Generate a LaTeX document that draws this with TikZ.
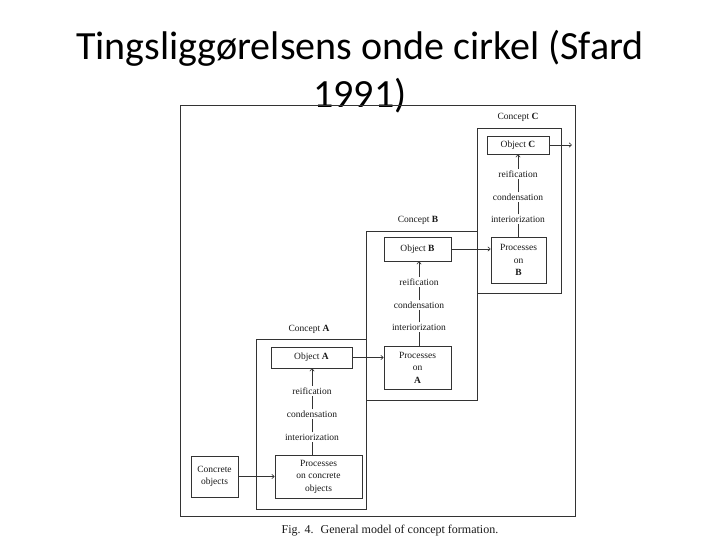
\documentclass[tikz,border=0pt]{standalone}
\usepackage{fontspec}
\setmainfont{Liberation Serif}
\newfontfamily\titlefont{Carlito}
\usetikzlibrary{arrows.meta}
\tikzset{
  wbox/.style 2 args={draw=black!80, line width=0.6pt, minimum width=#1, minimum height=#2, inner sep=0pt, align=center, font=\fontsize{9.5}{12.5}\selectfont, text=black!90},
  lbl/.style={inner sep=1.2pt, font=\fontsize{9.5}{10}\selectfont, text=black!90},
  conn/.style={draw=black!80, line width=0.6pt},
  arr/.style={conn, -{Straight Barb[length=2.5pt,width=4.5pt]}}
}
\begin{document}
\begin{tikzpicture}[x=1pt,y=-1pt]
\useasboundingbox (0,0) rectangle (720,540);
% title
\node[font=\titlefont\fontsize{40}{48}\selectfont, anchor=base] (t1) at (360,60) {Tingsliggørelsens onde cirkel (Sfard};
\node[font=\titlefont\fontsize{40}{48}\selectfont, anchor=base] (t2) at (360,108) {1991)};
% outer frame
\node[wbox={395pt}{411pt}, line width=0.8pt] (frame) at (377.5,310.5) {};
% concept frames
\node[wbox={84pt}{165pt}] (cC) at (519,210.5) {};
\node[wbox={111pt}{169pt}] (cB) at (421.5,315.5) {};
\node[wbox={110pt}{170pt}] (cA) at (311.5,424) {};
\node[lbl] (labC) at (518,117) {Concept \textbf{C}};
\node[lbl] (labB) at (418,220) {Concept \textbf{B}};
\node[lbl] (labA) at (309,329) {Concept \textbf{A}};
% boxes
\node[wbox={62pt}{18pt}] (objC) at (518,145) {Object \textbf{C}};
\node[wbox={55pt}{46pt}] (procB) at (518.5,260) {Processes\\on\\\textbf{B}};
\node[wbox={67pt}{24pt}] (objB) at (417.5,249) {Object \textbf{B}};
\node[wbox={67pt}{43pt}] (procA) at (417.5,367.5) {Processes\\on\\\textbf{A}};
\node[wbox={81pt}{21pt}] (objA) at (311.5,357.5) {Object \textbf{A}};
\node[wbox={87pt}{43pt}] (procCO) at (318.5,476.5) {Processes\\on concrete\\objects};
\node[wbox={47pt}{41pt}] (concrete) at (214.5,476.5) {Concrete\\objects};
% process labels
\node[lbl] (reC) at (518,174) {reification};
\node[lbl] (coC) at (518,197) {condensation};
\node[lbl] (inC) at (518,219) {interiorization};
\node[lbl] (reB) at (419,282) {reification};
\node[lbl] (coB) at (419,305) {condensation};
\node[lbl] (inB) at (419,327) {interiorization};
\node[lbl] (reA) at (312,391) {reification};
\node[lbl] (coA) at (312,414) {condensation};
\node[lbl] (inA) at (312,437) {interiorization};
\coordinate (outC) at (572,145);
% vertical chains
\draw[conn] (procB.north -| inC) -- (inC);
\draw[conn] (inC) -- (coC);
\draw[conn] (coC) -- (reC);
\draw[arr] (reC) -- (reC |- objC.south);
\draw[conn] (procA.north -| inB) -- (inB);
\draw[conn] (inB) -- (coB);
\draw[conn] (coB) -- (reB);
\draw[arr] (reB) -- (reB |- objB.south);
\draw[conn] (procCO.north -| inA) -- (inA);
\draw[conn] (inA) -- (coA);
\draw[conn] (coA) -- (reA);
\draw[arr] (reA) -- (reA |- objA.south);
% horizontal arrows
\draw[arr] (concrete.east) -- (concrete.east -| procCO.west);
\draw[arr] (objA.east) -- (objA.east -| procA.west);
\draw[arr] (objB.east) -- (objB.east -| procB.west);
\draw[arr] (objC.east) -- (outC);
% caption
\node[font=\fontsize{12}{14}\selectfont, text=black!90] (cap) at (390,531) {Fig. 4. \ General model of concept formation.};
\end{tikzpicture}
\end{document}
